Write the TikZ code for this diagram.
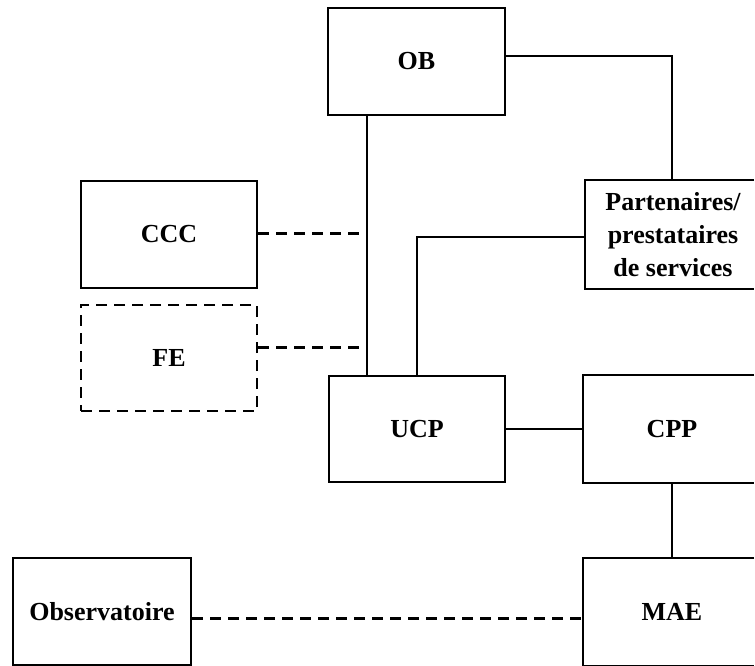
\documentclass[tikz,border=0pt]{standalone}
\usepackage{fontspec}
\setmainfont{Liberation Serif}
\begin{document}
\begin{tikzpicture}[x=1pt,y=-1pt,
  box/.style={draw,line width=2.2pt,minimum width=176pt,minimum height=107pt,inner sep=0pt,align=center,
    font=\bfseries\fontsize{26}{33}\selectfont},
  obox/.style={box,draw=none},
  dbox/.style={box,line width=2.8pt,dash pattern=on 11pt off 7pt},
  edge3/.style={line width=2.2pt},
  link/.style={line width=2pt},
  dlink/.style={line width=3pt,dash pattern=on 11pt off 7pt}]
\useasboundingbox (0,0) rectangle (755,666);
\node[box,minimum width=177pt] (OB) at (416.5,61.5) {OB};
\node[box] (CCC) at (169,234.5) {CCC};
\node[dbox,minimum height=106pt] (FE) at (169,358) {FE};
\node[obox,minimum width=174pt] (PS) at (673,234.5) {Partenaires/\\prestataires\\de services};
\node[obox,minimum width=176pt,minimum height=106pt] (CPP) at (672,429) {CPP};
\node[obox,minimum width=176pt,minimum height=106pt] (MAE) at (672,612) {MAE};
\node[box,minimum height=106pt] (UCP) at (417,429) {UCP};
\node[box,minimum width=178pt] (OBS) at (102,611.5) {Observatoire};
\coordinate (rb) at (754,0);
\foreach \n in {PS,CPP,MAE}
  \draw[edge3] (\n.north west -| rb) -- (\n.north west) -- (\n.south west) -- (\n.south west -| rb);
\coordinate (v1) at (367,0);
\coordinate (v2) at (417,0);
\coordinate (v3) at (672,0);
\coordinate (c1) at (359,233);
\coordinate (c2) at (368,347);
\draw[link] ([yshift=5.5pt]OB.east) -| (PS.north -| v3);
\draw[link] (OB.south -| v1) -- (UCP.north -| v1);
\draw[dlink] (CCC.east |- c1) -- (c1);
\draw[dlink] (FE.east |- c2) -- (c2);
\draw[link] ([yshift=-2.5pt]PS.west) -| (UCP.north -| v2);
\draw[link] (UCP.east) -- (CPP.west);
\draw[link] (CPP.south -| v3) -- (MAE.north -| v3);
\draw[dlink] ([yshift=-7pt]OBS.east) -- ([yshift=-7pt]OBS.east -| MAE.west);
\end{tikzpicture}
\end{document}
